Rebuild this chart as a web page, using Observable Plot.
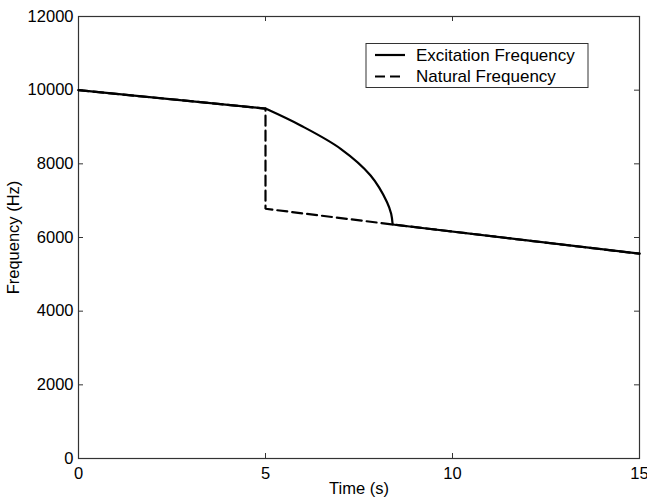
<!DOCTYPE html>
<html>
<head>
<meta charset="utf-8">
<script src="https://cdn.jsdelivr.net/npm/d3@7"></script>
<script src="https://cdn.jsdelivr.net/npm/@observablehq/plot@0.6"></script>
<style>
  html, body { margin: 0; padding: 0; background: #fff; }
  #chart { width: 647px; height: 502px; }
  svg { font-family: "Liberation Sans", Arial, Helvetica, sans-serif; overflow: visible; }
</style>
</head>
<body>
<div id="chart"></div>
<script>
// ---- data ----
const excTime = [0, 5, 5.94, 7.01, 7.81, 8.25, 8.36, 8.40, 15];
const excFreq = [10000, 9500, 9041, 8408, 7683, 6959, 6643, 6353, 5560];
const natTime = [0, 5, 5, 8.40, 15];
const natFreq = [10000, 9500, 6780, 6353, 5560];
const seriesNames = ["Excitation Frequency", "Natural Frequency"];
const xTicks = [0, 5, 10, 15];
const yTicks = [0, 2000, 4000, 6000, 8000, 10000, 12000];
const xLabel = "Time (s)";
const yLabel = "Frequency (Hz)";

const exc = excTime.map((t, i) => ({t, f: excFreq[i]}));
const nat = natTime.map((t, i) => ({t, f: natFreq[i]}));
// straight pieces before and after the curved transition (5 s .. 8.4 s)
const iStart = 1, iEnd = exc.length - 2;
const excBefore = exc.slice(0, iStart + 1);
const excCurve = exc.slice(iStart, iEnd + 1);
const excAfter = exc.slice(iEnd);

const W = 647, H = 502;
const mL = 78, mR = 8, mT = 16, mB = 44;
const pw = W - mL - mR, ph = H - mT - mB;
const tick = 5;
const axisColor = "#333";
const fs = 16.5;
const lineStyle = {x: "t", y: "f", stroke: "#000", strokeWidth: 2.2};

const chart = Plot.plot({
  width: W,
  height: H,
  marginLeft: mL,
  marginRight: mR,
  marginTop: mT,
  marginBottom: mB,
  style: {fontFamily: "'Liberation Sans', Arial, Helvetica, sans-serif", fontSize: fs + "px", background: "#fff", color: "#000", overflow: "visible"},
  x: {domain: [0, 15]},
  y: {domain: [0, 12000]},
  marks: [
    Plot.frame({stroke: axisColor, strokeWidth: 1.2}),
    // inward ticks (bottom, top, left, right)
    Plot.tickX(xTicks, {x: d => d, insetTop: ph - tick, stroke: axisColor}),
    Plot.tickX(xTicks, {x: d => d, insetBottom: ph - tick, stroke: axisColor}),
    Plot.tickY(yTicks, {y: d => d, insetRight: pw - tick, stroke: axisColor}),
    Plot.tickY(yTicks, {y: d => d, insetLeft: pw - tick, stroke: axisColor}),
    Plot.axisX({ticks: xTicks, tickSize: 0, tickPadding: 9, fontSize: fs, label: xLabel, labelAnchor: "center", labelArrow: "none", labelOffset: 35}),
    Plot.axisY({ticks: yTicks, tickSize: 0, tickPadding: 5, tickFormat: d => String(d), fontSize: fs, label: yLabel, labelAnchor: "center", labelArrow: "none", labelOffset: 71}),
    Plot.line(nat, {...lineStyle, strokeDasharray: "10,5", strokeLinejoin: "miter"}),
    Plot.line(excBefore, lineStyle),
    Plot.line(excCurve, {...lineStyle, curve: "catmull-rom"}),
    Plot.line(excAfter, lineStyle)
  ]
});

document.getElementById("chart").appendChild(chart);

// legend inside the plot (top right)
const svg = d3.select(chart);
const lg = svg.append("g").attr("class", "legend").attr("text-anchor", "start");
const lx = 366, ly = 43.5, lw = 222, lh = 44;
lg.append("rect").attr("x", lx).attr("y", ly).attr("width", lw).attr("height", lh)
  .attr("fill", "#fff").attr("stroke", axisColor).attr("stroke-width", 1);
const dashes = [null, "10,5"];
seriesNames.forEach((name, i) => {
  const yy = 55 + i * 21.5;
  lg.append("line").attr("x1", 375).attr("x2", 405).attr("y1", yy).attr("y2", yy)
    .attr("stroke", "#000").attr("stroke-width", 2.2)
    .attr("stroke-dasharray", dashes[i]);
  lg.append("text").attr("x", 416).attr("y", yy).attr("dy", "0.35em")
    .attr("text-anchor", "start")
    .attr("font-size", 17).attr("fill", "#000").text(name);
});
</script>
</body>
</html>
